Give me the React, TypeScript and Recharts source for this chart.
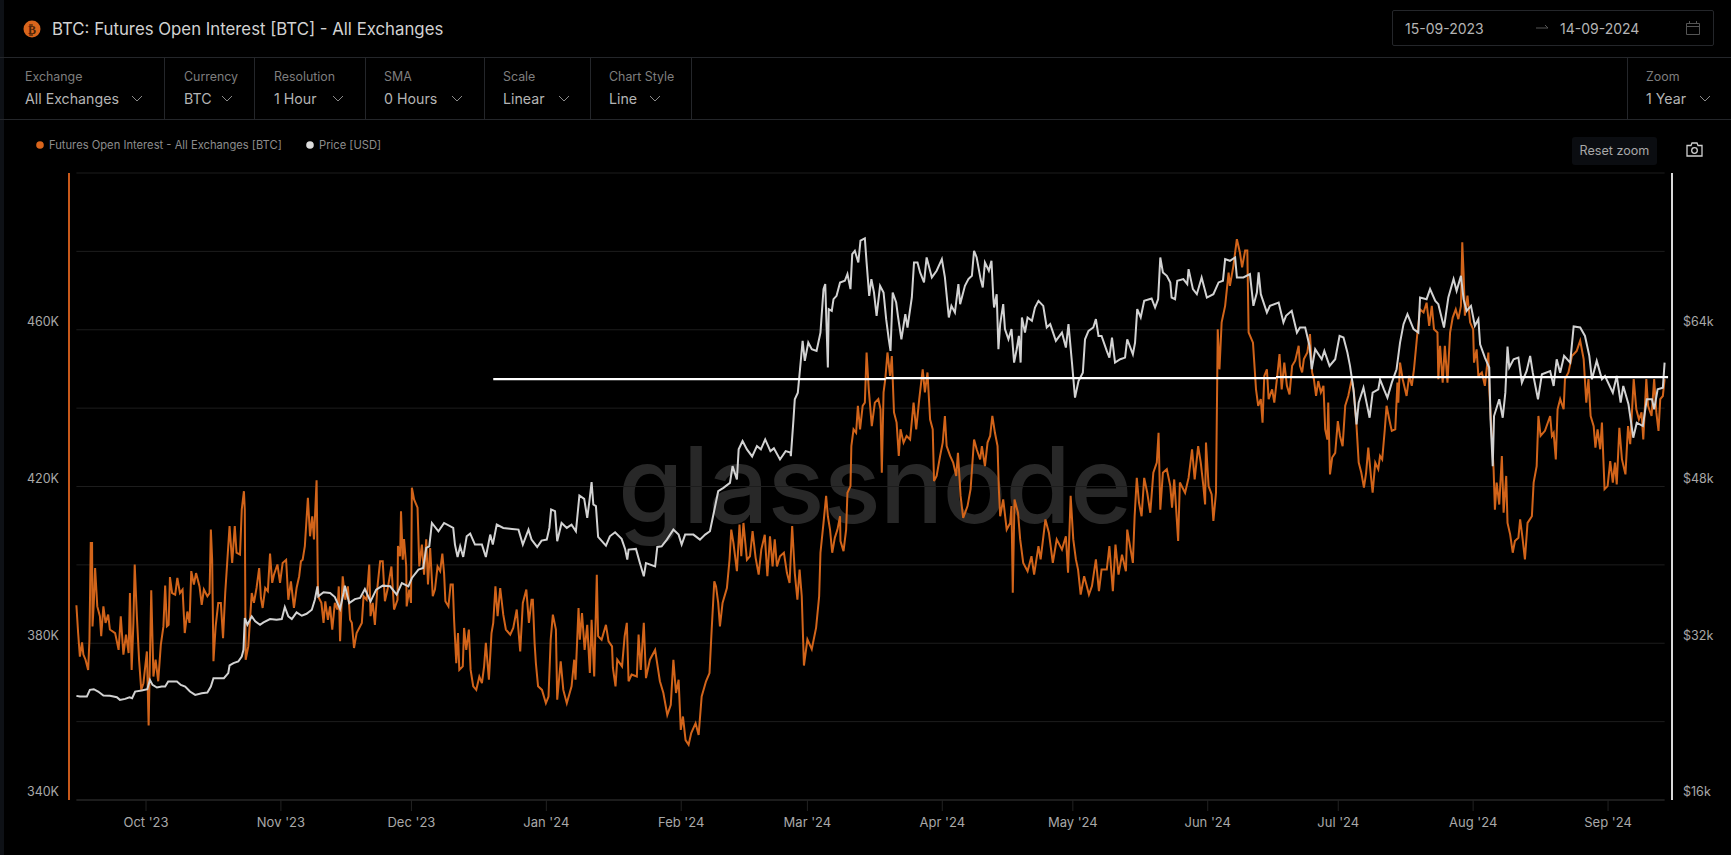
import React from 'react';
import { ComposedChart, Line, XAxis, YAxis, CartesianGrid, ReferenceLine } from 'recharts';

// [days since 15-09-2023, open interest in thousand BTC]
const openInterest: number[][] = [
[0,389.7],[0.4,382.6],[0.8,376.6],[1.3,380.2],[1.6,377.1],[2.1,375.8],[2.7,373.2],[3,380.9],[3.3,405.6],[3.6,405.6],[3.7,384.3],[4,390.3],[4.3,399.2],[4.8,389.4],[5.4,386.9],[5.7,381.8],[6.2,389.4],[6.7,385.2],[7.3,387.3],[7.7,383.5],[8.9,382.6],[9.7,378.3],[10.2,386.9],[10.8,377.1],[11.4,382.2],[12,377.5],[12.3,392.8],[12.7,373.2],[13.1,385.2],[13.4,400.1],[13.9,386.9],[14.4,375.8],[14.9,368.1],[15.4,369.8],[16.2,377.9],[16.6,359],[17.2,393.5],[17.7,371.5],[18.2,375.8],[18.8,370.3],[19.4,379.6],[20,384.3],[20.4,394.7],[20.8,384.3],[21.2,384.7],[21.5,396.9],[22,392.8],[22.7,392.4],[23.2,396.7],[23.8,392.8],[24.4,393.7],[24.9,382.6],[25.5,388.1],[26,385.2],[26.4,398.4],[27,395],[27.5,397.9],[28.3,394.5],[28.8,389.8],[29.3,393.7],[30.1,392],[30.6,392.8],[30.9,409],[31.2,401.3],[31.5,375.4],[32,384.3],[32.6,390.3],[33.2,390.3],[33.7,381.3],[34.2,392.8],[34.7,401.3],[35.2,409.9],[35.8,400.5],[36.4,409.9],[36.8,403.1],[37.6,402.6],[38,414.1],[38.5,418.8],[38.7,414.1],[38.9,375.8],[39.5,379.2],[40.3,392.8],[40.8,390.3],[41.4,394.1],[42,399.2],[42.4,391.6],[42.8,389],[43.4,394.1],[44,393.3],[44.5,402.9],[45,395.4],[45.4,397.5],[46.2,400.1],[46.8,395.4],[47.4,400.5],[48.2,401.3],[48.7,391.1],[49.3,395.8],[50,389],[50.6,394.1],[51.2,397.1],[51.6,400.9],
[52,401.3],[52.5,404.8],[53.2,417.1],[53.7,407.3],[54.2,412.4],[54.6,406.5],[55.2,421.6],[55.5,394.5],[55.7,391.6],[56.3,390.3],[56.8,385.2],[57.2,390.7],[57.8,386],[58.3,389.4],[58.8,383.5],[59.4,390.3],[60,388.6],[60.3,394.5],[60.6,380.5],[61.2,397.1],[61.8,391.1],[62.4,394.5],[62.9,386],[63.3,385.2],[63.8,378.8],[64.4,382.6],[65,383.9],[65.6,385.2],[66,392],[66.7,391.1],[67.3,400.1],[67.6,386.9],[68.1,390.3],[68.6,384.7],[69.2,394.5],[69.8,400.9],[70.4,400.9],[70.9,390.7],[71.5,393.7],[72.4,399.6],[73,388.6],[73.8,391.1],[73.9,404.8],[74.4,402.2],[74.6,413.7],[75,401.3],[75.3,406.6],[75.8,399.6],[75.9,389.4],[76.5,393.7],[76.9,390.3],[77.1,419.7],[77.6,416.7],[78.4,414.6],[78.8,399.6],[79.4,405.2],[79.9,397.5],[80.4,406.5],[80.8,395],[81.3,404.3],[81.9,392],[82.4,393.7],[83,399.6],[83.6,398.4],[84.1,402.9],[84.5,397.9],[84.8,390.7],[85.5,389.4],[86,395],[86.5,395],[86.8,386],[87.3,374.9],[87.7,382.6],[88,373.2],[88.8,374.1],[89.1,383.9],[89.6,378.3],[90.2,383.5],[90.6,373.2],[91.2,369],[91.9,368.1],[92.6,371.5],[93.2,369.8],[93.7,374.1],[94.1,380.1],[94.8,370.7],[95.4,382.6],[95.8,385.2],[96.3,394.5],[96.8,386.9],[97.4,394.1],[98.1,387.3],[98.7,383.5],[99.7,382.2],[100.4,383.9],[101.2,388.6],[102,377.9],[102.6,390.3],[103.4,393.7],[104,385.2],[104.6,391.1],
[104.9,391.1],[105.3,380.1],[105.6,374.9],[106.1,369],[107,368.1],[107.9,364.7],[108.5,366.4],[109,380.9],[109.5,387.3],[110.2,383.5],[110.5,365.6],[111.3,375.4],[111.9,368.1],[112.7,364.7],[113.8,369],[114.4,375.8],[114.7,370.7],[115.4,389],[115.7,380.9],[116.2,387.7],[116.8,378.3],[117.4,384.7],[118,372.4],[118.4,386],[119,371.5],[119.6,397.5],[119.9,381.8],[120.7,380.9],[121.7,384.7],[122.3,380.5],[123.1,379.2],[123.3,373.7],[123.9,369],[124.3,375.8],[125.4,374.1],[126,381.8],[126.5,385.2],[126.9,370.3],[127.6,372],[128.8,371.5],[129.2,382.2],[129.7,373.2],[130.4,385.2],[130.9,371.1],[131.8,375.8],[133,378.3],[134.1,370.3],[134.9,367.3],[135.8,361.7],[136.6,364.3],[137.2,375.8],[137.8,367.3],[138.4,370.7],[138.9,357.9],[139.4,361.3],[140,355.3],[140.7,354.1],[141.3,357.1],[142.3,359.6],[143,356.6],[143.7,366.4],[144.7,370.3],[145.5,372.4],[146,383.5],[146.6,395.8],[147,394.5],[147.5,390.3],[147.9,384.3],[148.5,390.3],[149.5,394.1],[150.1,401.3],[150.5,409],[151,405.6],[151.8,398.4],[152.4,410.3],[152.8,402.2],[153.3,410.7],[154.1,401.3],[154.8,402.2],[155.4,408.6],[156.1,401.8],[156.8,397.5],[157.4,403.9],[158.2,407.7],[158.8,397.1],[159.4,407.3],[160,399.6],[160.5,406.5],[161,399.6],[161.7,402.2],[162.6,403.1],[163.3,397.9],[163.9,395.4],[164.5,409.9],[165.1,397.9],[165.7,391.1],[166.2,398.8],
[166.7,392],[167.2,374.3],[168,381],[169,378.5],[170,384],[170.7,392],[171,403.1],[171.7,410.7],[172.3,417.6],[172.7,412.4],[173.2,409],[173.7,403.1],[174.3,406.9],[174.9,409],[175.5,412.4],[175.6,406.1],[176.3,403.5],[176.9,409],[177.2,418.4],[177.9,420.1],[178.1,430.3],[178.6,434.6],[179.2,433.7],[179.6,440.6],[180.1,434.6],[180.7,440.6],[181.2,441.4],[181.6,454.2],[182.1,444.8],[182.8,435.4],[183.5,441.4],[184.3,442.3],[184.8,439.7],[185.1,423.5],[185.5,444],[185.9,447.4],[186.4,454.2],[187,448.2],[187.4,453.3],[187.9,438.9],[188.5,436.3],[189,427.8],[189.4,434.6],[190.1,431.2],[190.8,432.9],[191.6,432],[192.4,441.4],[193,434.6],[193.7,442.3],[194.5,449.9],[195,444],[195.6,449.1],[196.2,437.1],[196.8,434.6],[197.1,421.4],[197.7,422.7],[198.5,427.8],[199.1,431.2],[199.6,438],[200,430.3],[200.8,427.8],[201.5,426.1],[202.2,422.7],[202.6,428.6],[203.2,417.6],[203.8,412],[204.8,415],[205.5,419.3],[206.3,432],[206.9,429.5],[207.7,426.9],[208.1,430.3],[208.8,425.2],[209.4,431.2],[210,432.9],[210.5,438],[211.1,433.7],[211.7,430.3],[212,419.3],[212.3,412.4],[213,416.7],[213.8,409],[214.6,410.7],[214.9,415],[215.2,392.9],[215.6,416.7],[216.4,413.3],[216.9,406.5],[217.6,400.5],[218.6,398.4],[219.5,402.2],[220.1,397.5],[221.1,404.8],[221.6,401.4],[222.7,411.6],[223.5,408.2],[224.4,400.5],[225.3,406.5],[226.5,403.9],[227.4,407.3],[227.9,398],[228.5,417.6],[229.1,406.5],[229.7,401.4],
[230.2,398.8],[230.8,392.4],[231.6,397.1],[232.2,394.6],[232.7,392.4],[233.4,394.6],[234.3,401.4],[235,393.3],[235.6,398.8],[236.8,398.8],[237.4,404.8],[238.2,393.3],[238.8,405.2],[239.5,397.5],[240.3,402.6],[241.2,398.4],[241.5,409],[242.8,400.5],[243.2,412.4],[243.7,422.2],[244.2,415.9],[244.8,412.4],[245.4,422.2],[246.1,418.4],[246.8,413.3],[247.5,423.5],[248.3,426.1],[248.7,433.7],[249.1,414.1],[249.7,423.5],[250.6,424.4],[251.4,420.1],[251.8,414.6],[252.3,421.8],[252.7,415],[253.2,406.1],[253.6,421],[254.8,418.4],[255.6,422.2],[256.4,429.5],[257,421.8],[257.8,430.3],[258.4,426.1],[259,420.1],[259.4,415.4],[259.6,431.2],[260.2,420.1],[260.9,418],[261.3,411.2],[261.9,418.4],[262.2,449],[262.3,460.1],[262.7,449.9],[263.2,461.9],[264,466.1],[264.8,474.6],[265.1,471.2],[265.9,476.3],[266.7,483.1],[267.4,479.7],[267.9,475.9],[268.6,480.2],[269.1,480.2],[269.4,459.3],[270.4,456.7],[270.7,451.6],[271.1,444.8],[271.6,440.6],[272.2,442.3],[272.6,436.3],[273,448.2],[273.6,449.9],[274,442.3],[274.8,444.8],[275.3,441.4],[275.9,447.4],[276.5,453.8],[277,444.8],[277.6,451.6],[278.2,445.7],[278.8,443.5],[279.4,450.8],[280.1,452.1],[280.9,455.9],[281.2,450.8],
[281.7,449.1],[282.1,452.5],[282.9,454.2],[283.5,458.9],[284,449.1],[284.4,447.4],[284.9,443.1],[285.4,446.9],[286,444],[286.6,445.7],[287,434.6],[287.5,432],[287.7,441.4],[288.1,423.1],[288.6,427.4],[289.3,428.6],[289.9,436.7],[290.4,432.9],[291,430.3],[291.6,440.6],[292.3,443.1],[293.1,447.4],[293.6,444],[294.2,435.4],[294.7,426.1],[295.3,423.5],[295.9,419.7],[296.4,423.5],[296.9,429.9],[297.5,422.7],[297.9,418.4],[298.5,426.1],[299.2,424.4],[299.6,427.8],[300.1,426.9],[300.7,434.6],[301.1,440.6],[301.8,436.7],[302.3,434.2],[303.1,434.6],[303.6,446.5],[303.8,441.4],[304.2,451.6],[304.8,447.4],[305.7,443.1],[306.3,448.2],[306.9,445.7],[307.4,449.9],[308.2,459.3],[308.8,465.2],[309.6,464.4],[310.3,466.9],[310.9,461],[311.5,466.1],[312,460.1],[312.8,459.3],[313,447.4],[313.4,455.9],[314,446.5],[314.5,455.9],[315.1,446.5],[315.7,459.3],[316.3,463.1],[317,465.2],[317.6,462.7],[318.2,466.1],[318.5,482.3],[318.8,474.6],[319.1,463.6],[319.7,468.7],[320.3,461.9],[321,460.1],[321.2,451.6],[321.8,455],[322.2,448.2],
[323,449.1],[323.7,445.7],[324.5,454.2],[324.7,444.8],[325.2,434.6],[325.7,424.4],[326,414.1],[326.4,421],[327,415.4],[327.6,427.8],[328,413.3],[328.6,422.7],[328.9,410.7],[329.5,407.8],[330.1,403.1],[330.6,406.1],[331.4,406.9],[331.8,411.6],[332.3,407.3],[332.9,401.4],[333.5,410.7],[334.5,412.4],[334.9,421],[335.6,425.2],[336,438],[336.5,432.9],[337.5,434.2],[338.7,438],[339.1,432.9],[339.5,433.7],[340,426.9],[340.4,439.7],[341,442.3],[341.8,439.7],[342.1,447.4],[342.9,449.1],[343.7,453.3],[344.8,454.6],[345.6,457.2],[346.4,452.5],[347,441.4],[347.5,447.4],[348,438],[348.7,435.4],[349.1,429.9],[349.6,434.6],[350.2,429.5],[350.6,436.3],[351.2,419.3],[351.9,420.1],[352.5,426.5],[353.1,421],[353.6,426.1],[354,420.5],[354.6,435],[355.2,426.9],[356,423.1],[356.6,435.4],[357.1,430.8],[357.9,447.4],[358.5,439.7],[359.1,437.1],[359.7,438.9],[360.1,432],[360.8,447.4],[361.2,440.6],[362,438],[362.6,447.4],[363.1,438.9],[363.6,434.2],[364,442.3],[364.6,443.1],[365,447.4],
];

// [days since 15-09-2023, BTC price in thousand USD]
const btcPrice: number[][] = [
[0,26.63],[0.8,26.56],[2.4,26.56],[3.1,27.24],[4,27.31],[5,27.07],[6.2,26.66],[7.7,26.63],[9.3,26.49],[10,26.22],[11.2,26.32],[12.2,26.49],[12.8,26.39],[13.5,27.07],[15,27.17],[16.3,27.31],[16.9,28.26],[17.5,27.75],[18.5,27.48],[19.6,27.58],[20.4,27.58],[21.1,28.09],[23.1,28.09],[24,27.75],[25,27.58],[26.1,27.07],[27.3,26.73],[28.8,26.9],[30.1,26.97],[30.9,27.58],[31.5,28.44],[32.6,28.44],[33.9,28.44],[34.9,28.95],[35.2,29.73],[36.1,29.97],[37.2,30.14],[38,30.65],[38.4,31.33],[38.7,34.57],[39.3,33.89],[40.3,34.74],[41.1,34.23],[42.2,33.89],[43,34.13],[44.5,34.47],[46,34.4],[47.2,34.47],[47.9,35.7],[48.7,34.74],[49.5,34.47],[50.6,35.15],[51.8,34.81],
[52.9,35.01],[54.1,35.42],[54.8,36.44],[55.4,37.81],[55.6,36.79],[56.8,37.2],[58.3,37.13],[59.4,36.72],[60.6,35.49],[61.4,37.13],[61.7,37.88],[62.7,36.1],[64,36.51],[65.2,36.62],[66.3,37.54],[67.6,36.27],[68.9,37.47],[70.4,37.88],[72.1,37.81],[73.6,36.96],[74.8,38.15],[76.3,37.81],[77.1,38.66],[78.6,39.51],[79.7,39.68],[80.4,41.73],[81.1,41.9],[81.7,44.28],[83.2,43.43],[84.5,44.28],[86.6,43.77],[87,42.07],[87.6,40.81],[88.2,41.9],[88.9,40.81],[89.7,42.92],[90.5,43.19],[91.6,42.07],[93.2,42.07],[94.1,40.81],[95.1,43.09],[95.7,42.07],[96.6,44.11],[98.1,43.77],[100.1,43.67],[101.6,43.6],[102.6,42.07],[103.9,43.6],[104.6,42.58],
[105.9,41.83],[106.9,42.48],[108.1,42.58],[108.7,43.77],[109.1,45.65],[110,45.48],[110.5,42.41],[111.5,44.28],[112.7,43.77],[113.8,44.11],[114.8,43.43],[115.6,47.08],[116.7,46.74],[117.4,44.8],[117.9,46.5],[118.4,48.44],[118.8,46.16],[119.4,45.99],[119.9,42.85],[121.7,41.97],[122.6,42.92],[123.8,43.33],[125.3,42.65],[126.1,41.63],[126.6,40.54],[126.9,41.56],[128.6,41.63],[129.5,40.19],[130.4,38.83],[130.9,40.19],[133,39.85],[133.5,41.83],[134.5,41.9],[135.7,42.58],[137.2,43.6],[138.4,43.09],[139.1,42.07],[139.9,43.09],[141.8,43.09],[143.3,42.58],[144.5,43.09],[145.6,43.43],[146.4,45.14],[147.5,47.52],[148.7,47.86],[150.2,48.37],[150.8,50.08],[151.8,48.71],[152.2,51.79],[153.1,52.64],[154.1,51.79],[155.3,51.07],[156.4,52.13],[157.3,51.79],[158.3,52.81],[159.5,51.61],[160.3,51.89],[161.7,50.76],[163,51.61],[164.1,51.46],
[164.2,51.1],[164.8,54.85],[165.1,56.9],[165.8,57.58],[166.3,59.97],[166.9,62.86],[167.4,60.82],[168.2,62.69],[169,62.01],[170.1,61.84],[171,63.71],[171.7,68.15],[172.1,68.66],[172.7,60.14],[172.9,66.1],[173.6,65.93],[174,67.12],[174.7,67.46],[175.5,68.83],[176.6,69],[177.2,69.68],[177.9,68.15],[178.3,71.72],[178.9,72.06],[179.7,70.87],[180.2,73.09],[181.2,73.33],[181.6,70.87],[182.2,67.46],[182.7,69.17],[183.3,67.8],[183.9,65.42],[184.7,68.49],[185.5,67.8],[186.1,65.08],[186.7,63.03],[187.1,61.84],[187.6,67.8],[188.4,66.78],[188.8,65.42],[189.6,63.03],[190.5,65.59],[191,64.23],[192,67.29],[192.5,70.87],[193.3,70.87],[193.9,69.85],[194.8,68.83],[195.4,71.38],[196.6,69.34],[197.7,70.02],[198.9,71.21],[199.6,69.34],[200.5,65.25],[201.1,66.44],[201.9,65.76],[202.7,68.66],[203.1,66.61],[204.2,68.49],[205,69.17],[205.8,69.51],[206.3,72.06],[206.9,71.38],[207.8,69.17],[208.3,68.32],[208.8,70.87],[209.7,70.02],[210.3,71.04],[210.7,67.46],[210.9,66.27],[211.5,67.63],[211.9,62.01],[212.3,64.57],[213,66.61],[213.4,64.06],[214.2,63.03],[214.9,64.06],[215.5,60.65],[216.1,62.01],[216.6,63.37],[217,60.65],[217.3,65.25],[218,63.71],[218.6,65.25],[219.6,64.91],[220.3,66.27],[221.1,66.95],[222.2,66.44],[223,64.23],[223.8,64.57],[225.1,62.86],[226.5,63.71],[227.4,62.18],[228,64.57],[228.8,60.65],[229.5,57.07],[230.3,58.77],
[231.3,59.62],[231.8,63.03],[232.6,63.88],[233.7,64.23],[234.3,65.08],[234.9,63.37],[235.6,63.37],[236.8,61.84],[237.4,61.16],[238,63.2],[238.7,60.65],[239.9,60.99],[241,61.16],[241.5,63.03],[242.8,61.5],[243.3,62.69],[243.8,66.1],[244.6,65.25],[245.4,66.95],[247.1,67.19],[247.9,66.27],[248.6,67.12],[249.1,71.38],[249.7,69.85],[250.6,69.51],[251.4,68.83],[251.7,67.29],[252.5,67.12],[253,69],[254.4,69.17],[255.3,68.66],[255.6,70.19],[256.6,68.15],[257.5,67.63],[258.6,69.34],[259.8,67.29],[261.3,67.63],[262.5,68.83],[263.5,69],[264,71.21],[265.1,71.04],[266.3,71.38],[266.7,69.34],[268.2,69.34],[269.7,69.68],[270.5,66.44],[271.3,67.8],[271.7,69.85],[272.2,67.63],[273.6,65.76],[274.3,66.44],[276.3,66.78],[277.4,64.74],[278,65.42],[279.3,65.93],[280.5,63.71],[281.2,64.23],
[282.4,64.23],[283.4,62.35],[283.9,59.97],[284.7,62.01],[286.2,60.99],[286.8,61.84],[288,60.31],[289.3,60.99],[290.3,63.37],[291.2,63.2],[292.1,61.67],[292.7,60.31],[293.5,57.92],[294.2,54.34],[294.7,56.56],[295.8,58.09],[297.2,55.02],[297.9,57.58],[299.2,57.92],[299.6,58.94],[300.5,57.92],[301.3,57.07],[302.3,58.6],[303.4,59.97],[304.2,62.69],[305,64.57],[305.9,65.59],[307.3,64.06],[308.4,63.71],[308.8,67.29],[310.3,67.12],[311.1,68.15],[312.3,66.95],[313,66.61],[314.3,64.23],[315.3,67.29],[316.5,69.17],[317.2,67.97],[318.2,69.51],[318.8,67.12],[319.5,65.93],[320.5,66.44],[321.4,64.4],[322.2,65.08],
[322.6,62.52],[323.7,61.16],[324.7,60.14],[325,54.85],[325.5,50.08],[325.8,55.19],[327,56.9],[327.8,55.02],[328.4,57.58],[328.9,62.28],[329.3,60.14],[330.3,60.99],[331.4,61.16],[332.2,58.6],[333.3,59.8],[334.1,61.33],[334.7,59.62],[335.9,56.9],[336.8,59.45],[338.7,59.79],[339.5,58.26],[340.2,60.99],[341,59.62],[341.9,61.33],[343.3,60.65],[344.1,64.33],[345.6,64.23],[346.7,63.37],[347.7,61.33],[348.3,58.94],[349.4,60.82],[350.6,58.94],[351.3,59.28],[353.1,57.58],[354,59.28],[354.9,56.56],[355.5,58.26],[356.7,56.39],[357.8,52.98],[358.6,54.51],[360,54.17],[360.9,56.9],[362.1,56.9],[362.6,55.88],[363.4,57.92],[364.6,58.09],[365,60.65],
];

// hand-drawn white annotation: [start day, end day, level in thousand BTC]
const annotationSegments: number[][] = [[95.8, 186, 447.4], [186, 275.7, 447.65], [275.7, 365.8, 447.9]];

const monthTicks = [16, 47, 77, 108, 139, 168, 199, 229, 260, 290, 321, 352];
const monthLabels = ["Oct '23", "Nov '23", "Dec '23", "Jan '24", "Feb '24", "Mar '24", "Apr '24", "May '24", "Jun '24", "Jul '24", "Aug '24", "Sep '24"];
const oiTicks = [340, 380, 420, 460];
const oiGrid = [340, 360, 380, 400, 420, 440, 460, 480, 500];
const priceTicks = [16, 32, 48, 64];

const controls = [
  { label: 'Exchange', value: 'All Exchanges', x: 25, cx: 137 },
  { label: 'Currency', value: 'BTC', x: 184, cx: 227 },
  { label: 'Resolution', value: '1 Hour', x: 274, cx: 338 },
  { label: 'SMA', value: '0 Hours', x: 384, cx: 457 },
  { label: 'Scale', value: 'Linear', x: 503, cx: 564 },
  { label: 'Chart Style', value: 'Line', x: 609, cx: 655 },
  { label: 'Zoom', value: '1 Year', x: 1646, cx: 1705 },
];
const dividers = [164, 254, 365, 484, 590, 691, 1627];

const FONT = 'Inter, Roboto, sans-serif';
const oiData = openInterest.map(([day, oi]) => ({ day, oi }));
const priceData = btcPrice.map(([day, price]) => ({ day, price }));

const abs = (left: number, top: number, extra: React.CSSProperties = {}): React.CSSProperties => ({
  position: 'absolute', left, top, whiteSpace: 'nowrap', ...extra,
});

function Chevron({ x }: { x: number }) {
  return (
    <svg style={abs(x - 6, 95)} width={12} height={8}>
      <path d="M1 1 L6 6 L11 1" fill="none" stroke="#8a8a8a" strokeWidth={1} />
    </svg>
  );
}

const LeftTick = ({ y, payload }: any) => (
  <text x={59} y={y - 7} textAnchor="end" dominantBaseline="middle" fill="#a8a8a8" fontSize={12.5} fontFamily={FONT}>{payload.value}K</text>
);
const RightTick = ({ y, payload }: any) => (
  <text x={1683} y={y - 7} textAnchor="start" dominantBaseline="middle" fill="#a8a8a8" fontSize={12.5} fontFamily={FONT}>${payload.value}k</text>
);

export default function App() {
  return (
    <div style={{ position: 'fixed', left: 0, top: 0, width: 1731, height: 855, background: '#000', overflow: 'hidden', fontFamily: FONT }}>
      <div style={abs(0, 0, { width: 4, height: 855, background: '#0e1116' })} />
      <div style={abs(0, 57, { width: 1731, height: 1, background: '#24262a' })} />
      <div style={abs(0, 119, { width: 1731, height: 1, background: '#24262a' })} />
      {dividers.map((d) => <div key={d} style={abs(d, 57, { width: 1, height: 62, background: '#24262a' })} />)}

      <svg style={abs(23, 20)} width={18} height={18}>
        <circle cx={9} cy={9} r={8.5} fill="#d9651c" />
        <text x={9} y={13.5} textAnchor="middle" fontSize={12} fontWeight={700} fill="#4a2208" fontFamily="DejaVu Sans">₿</text>
      </svg>
      <div style={abs(52, 18, { fontSize: 16.8, lineHeight: '22px', color: '#d2d2d2' })}>BTC: Futures Open Interest [BTC] - All Exchanges</div>

      <div style={abs(1392, 10, { width: 320, height: 34, border: '1px solid #24262a', borderRadius: 2 })} />
      <div style={abs(1405, 19, { fontSize: 14, lineHeight: '20px', color: '#b4b4b4' })}>15-09-2023</div>
      <svg style={abs(1536, 23)} width={14} height={10}><path d="M0 5 H12 M9 2 L12 5" stroke="#555" fill="none" /></svg>
      <div style={abs(1560, 19, { fontSize: 14, lineHeight: '20px', color: '#b4b4b4' })}>14-09-2024</div>
      <svg style={abs(1685, 20)} width={16} height={16}>
        <path d="M1.5 3.5 H14.5 V14.5 H1.5 Z M1.5 6.5 H14.5 M4.5 1 V4 M11.5 1 V4" stroke="#555" fill="none" />
      </svg>

      {controls.map((c) => (
        <React.Fragment key={c.label}>
          <div style={abs(c.x, 68, { fontSize: 12.4, lineHeight: '18px', color: '#7e7e7e' })}>{c.label}</div>
          <div style={abs(c.x, 89, { fontSize: 14.2, lineHeight: '20px', color: '#b4b4b4' })}>{c.value}</div>
          <Chevron x={c.cx} />
        </React.Fragment>
      ))}

      <svg style={abs(36, 141)} width={8} height={8}><circle cx={4} cy={4} r={3.8} fill="#d9651c" /></svg>
      <div style={abs(49, 137, { fontSize: 11.2, lineHeight: '16px', color: '#8c8c8c' })}>Futures Open Interest - All Exchanges [BTC]</div>
      <svg style={abs(306, 141)} width={8} height={8}><circle cx={4} cy={4} r={3.8} fill="#dcdcdc" /></svg>
      <div style={abs(319, 137, { fontSize: 11.2, lineHeight: '16px', color: '#8c8c8c' })}>Price [USD]</div>

      <div style={abs(1572, 137, { width: 85, height: 28, background: '#0b0d11', borderRadius: 3, color: '#a8a8a8', fontSize: 12.6, lineHeight: '28px', textAlign: 'center' })}>Reset zoom</div>
      <svg style={abs(1686, 142)} width={17} height={15}>
        <path d="M1 3.5 H5 L6 1 H11 L12 3.5 H16 V14 H1 Z" fill="none" stroke="#cfcfcf" strokeWidth={1.3} />
        <circle cx={8.5} cy={8.5} r={2.8} fill="none" stroke="#cfcfcf" strokeWidth={1.3} />
      </svg>

      <div style={abs(618, 420, { fontSize: 106, lineHeight: '130px', letterSpacing: -1, fontWeight: 500, color: '#282828', fontFamily: 'Inter, sans-serif' })}>glassnode</div>

      <div style={abs(0, 0)}>
        <ComposedChart width={1731} height={855} margin={{ top: 173, right: 0, bottom: 0, left: 0 }}>
          <CartesianGrid yAxisId="oi" vertical={false} horizontalValues={oiGrid} stroke="#1d1d1d" strokeWidth={1} />
          <XAxis
            xAxisId="x" type="number" dataKey="day" domain={[0, 365]} ticks={monthTicks} interval={0} height={55}
            tickFormatter={(d: number) => monthLabels[monthTicks.indexOf(d)]}
            axisLine={{ stroke: '#2a2a2a' }} tickLine={{ stroke: '#222' }} tickSize={11} tickMargin={7}
            tick={{ fill: '#a8a8a8', fontSize: 13, fontFamily: FONT }}
          />
          <YAxis
            yAxisId="oi" orientation="left" width={76.4} domain={[340, 500]} ticks={oiTicks} interval={0}
            axisLine={{ stroke: '#c8591a', strokeWidth: 2, transform: 'translate(-7.4 0)' }} tickLine={false} tick={<LeftTick />}
          />
          <YAxis
            yAxisId="price" orientation="right" width={66.4} domain={[16, 80]} ticks={priceTicks} interval={0}
            axisLine={{ stroke: '#d8d8d8', strokeWidth: 2, transform: 'translate(7.4 0)' }} tickLine={false} tick={<RightTick />}
          />
          <Line xAxisId="x" yAxisId="oi" data={oiData} dataKey="oi" type="linear" stroke="#d2641a" strokeWidth={2} dot={false} isAnimationActive={false} />
          <Line xAxisId="x" yAxisId="price" data={priceData} dataKey="price" type="linear" stroke="#d2d2d2" strokeWidth={2} dot={false} isAnimationActive={false} />
          {annotationSegments.map(([a, b, v]) => (
            <ReferenceLine key={a} xAxisId="x" yAxisId="oi" ifOverflow="visible" stroke="#ffffff" strokeWidth={2.4}
              segment={[{ x: a, y: v }, { x: b, y: v }]} />
          ))}
        </ComposedChart>
      </div>
    </div>
  );
}
